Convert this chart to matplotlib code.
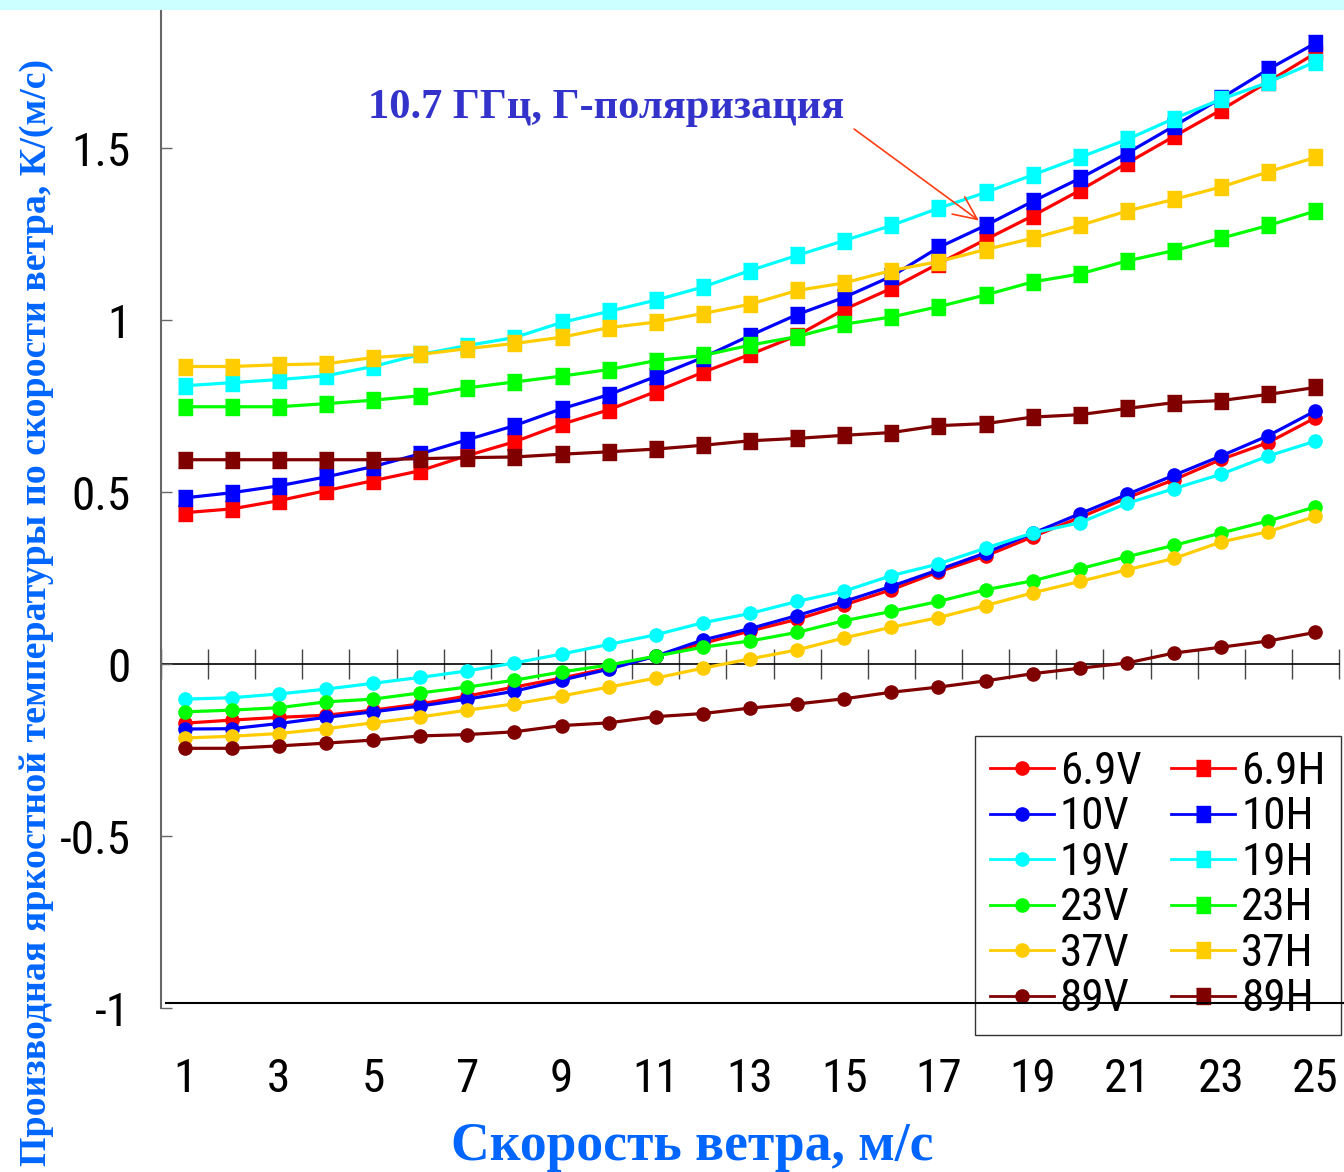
import os
import numpy as np
import matplotlib
matplotlib.use('Agg')
import matplotlib.pyplot as plt
from matplotlib import font_manager as fm
from matplotlib.textpath import TextPath

# скорость ветра, м/с
wind = np.arange(1, 26)

# производная Tя по скорости ветра, К/(м/с), вертикальная поляризация
v69 = [-0.172, -0.163, -0.155, -0.149, -0.134, -0.116, -0.093, -0.067, -0.041, -0.012, 0.023, 0.060, 0.096,
       0.130, 0.172, 0.216, 0.268, 0.314, 0.370, 0.426, 0.483, 0.536, 0.595, 0.644, 0.716]
v10 = [-0.189, -0.188, -0.173, -0.155, -0.139, -0.122, -0.102, -0.079, -0.047, -0.015, 0.023, 0.070, 0.103,
       0.141, 0.182, 0.226, 0.274, 0.323, 0.380, 0.437, 0.493, 0.549, 0.605, 0.664, 0.736]
v19 = [-0.102, -0.098, -0.087, -0.073, -0.056, -0.039, -0.020, 0.003, 0.029, 0.057, 0.085, 0.120, 0.147,
       0.182, 0.212, 0.257, 0.291, 0.337, 0.381, 0.411, 0.467, 0.510, 0.552, 0.605, 0.648]
v23 = [-0.139, -0.134, -0.127, -0.110, -0.102, -0.084, -0.067, -0.047, -0.023, -0.003, 0.023, 0.049, 0.067,
       0.092, 0.126, 0.153, 0.182, 0.216, 0.242, 0.277, 0.312, 0.345, 0.381, 0.416, 0.457]
v37 = [-0.215, -0.210, -0.202, -0.188, -0.171, -0.154, -0.134, -0.116, -0.093, -0.067, -0.041, -0.012, 0.015,
       0.041, 0.076, 0.107, 0.135, 0.170, 0.207, 0.240, 0.274, 0.307, 0.355, 0.385, 0.429]
v89 = [-0.245, -0.245, -0.238, -0.230, -0.221, -0.209, -0.205, -0.197, -0.179, -0.171, -0.153, -0.144, -0.128,
       -0.116, -0.101, -0.082, -0.067, -0.049, -0.028, -0.012, 0.003, 0.032, 0.049, 0.067, 0.092]

# горизонтальная поляризация
h69 = [0.440, 0.451, 0.475, 0.504, 0.533, 0.562, 0.606, 0.646, 0.697, 0.739, 0.792, 0.848, 0.900,
       0.955, 1.031, 1.092, 1.164, 1.234, 1.303, 1.377, 1.456, 1.534, 1.611, 1.693, 1.776]
h10 = [0.483, 0.498, 0.518, 0.544, 0.574, 0.611, 0.652, 0.693, 0.742, 0.783, 0.836, 0.891, 0.955,
       1.016, 1.066, 1.127, 1.211, 1.275, 1.345, 1.412, 1.485, 1.564, 1.645, 1.729, 1.805]
h19 = [0.809, 0.818, 0.827, 0.838, 0.865, 0.900, 0.926, 0.949, 0.993, 1.025, 1.058, 1.096, 1.144,
       1.188, 1.231, 1.275, 1.325, 1.371, 1.422, 1.473, 1.525, 1.586, 1.642, 1.691, 1.751]
h23 = [0.748, 0.748, 0.748, 0.757, 0.767, 0.780, 0.803, 0.820, 0.837, 0.856, 0.882, 0.897, 0.927,
       0.952, 0.988, 1.009, 1.039, 1.073, 1.111, 1.134, 1.172, 1.202, 1.238, 1.275, 1.317]
h37 = [0.865, 0.865, 0.870, 0.873, 0.891, 0.900, 0.917, 0.932, 0.950, 0.978, 0.994, 1.019, 1.046,
       1.086, 1.108, 1.144, 1.170, 1.205, 1.238, 1.275, 1.317, 1.351, 1.387, 1.431, 1.473]
h89 = [0.594, 0.594, 0.594, 0.594, 0.594, 0.597, 0.600, 0.602, 0.610, 0.617, 0.625, 0.636, 0.649,
       0.656, 0.665, 0.673, 0.693, 0.699, 0.718, 0.725, 0.743, 0.760, 0.766, 0.784, 0.804]

channels = ['6.9', '10', '19', '23', '37', '89']
colors = ['#ff0000', '#0000ff', '#00ffff', '#00ff00', '#ffcc00', '#800000']
series_v = [v69, v10, v19, v23, v37, v89]
series_h = [h69, h10, h19, h23, h37, h89]

yticks = [-1, -0.5, 0, 0.5, 1, 1.5]
ytick_labels = ['-1', '-0.5', '0', '0.5', '1', '1.5']

serif = ['Liberation Serif', 'DejaVu Serif']
blue_title = '#0066ff'
DPI = 100


def narrow_font():
    # первый найденный узкий шрифт, иначе обычный DejaVu Sans
    wanted = ['liberationsansnarrowregular', 'robotocondensedregular', 'opensanscondensedregular',
              'dejavusanscondensed.ttf', 'notosanscondensed.ttf', 'notosanscondensedregular',
              'archivonarrowregular', 'ptsansnarrow']
    files = [f.fname for f in fm.fontManager.ttflist]
    for w in wanted:
        for p in files:
            key = os.path.basename(p).lower().replace('_', '').replace('-', '')
            if key.startswith(w):
                return p
    return None


narrow_path = narrow_font()


def narrow_prop(size):
    if narrow_path:
        return fm.FontProperties(fname=narrow_path, size=size)
    return fm.FontProperties(family='DejaVu Sans', size=size)


# размер шрифта легенды: "6.9V" шириной около 78 px, но не крупнее 34 pt
w_px = TextPath((0, 0), '6.9V', size=34, prop=narrow_prop(34)).get_extents().width * DPI / 72
fs = min(34.0, 34.0 * 78 / w_px)
fs_px = fs * DPI / 72

W, H = 1344, 1172
fig = plt.figure(figsize=(W / DPI, H / DPI), dpi=DPI)
fig.patch.set_facecolor('white')
# светло-голубая полоса сверху
fig.patches.append(plt.Rectangle((0, 1 - 10 / H), 1, 10 / H, transform=fig.transFigure,
                                 facecolor='#ccffff', edgecolor='none'))

ax = fig.add_axes([161 / W, 1 - 1008 / H, 1178 / W, 997.5 / H])
ylo, yhi = -1.0, 1.9
ax.set_xlim(0.5, 25.5)
ax.set_ylim(ylo, yhi)

# прямоугольный маркер, вытянутый по вертикали
rect = [(-0.8, -1), (0.8, -1), (0.8, 1), (-0.8, 1)]

hv, hh = [], []
for ch, c, yv, yh in zip(channels, colors, series_v, series_h):
    lv, = ax.plot(wind, yv, color=c, lw=2.3, marker='o', ms=9.5, mec=c, label=ch + 'V')
    lh, = ax.plot(wind, yh, color=c, lw=2.3, marker=rect, ms=12, mec=c, label=ch + 'H')
    hv.append(lv)
    hh.append(lh)

for s in ['top', 'right', 'bottom']:
    ax.spines[s].set_visible(False)
ax.spines['left'].set_color('#666666')
ax.spines['left'].set_linewidth(1.5)

ax.set_yticks(yticks)
ax.set_yticklabels(ytick_labels)
ax.tick_params(axis='y', direction='in', length=8, width=1, color='#666666', pad=22)
ax.set_xticks(wind[::2])
ax.tick_params(axis='x', length=0, pad=35.5)
for lab in ax.get_xticklabels() + ax.get_yticklabels():
    lab.set_fontproperties(narrow_prop(34))

# ось абсцисс, проходящая через ноль
zero = ax.secondary_xaxis((0 - ylo) / (yhi - ylo))
zero.set_xticks(np.arange(0.5, 26, 1))
zero.set_xticklabels([])
zero.tick_params(direction='inout', length=22, width=1, color='#444444')
zero.spines['bottom'].set_color('black')
zero.spines['bottom'].set_linewidth(1.2)

ax.axhline(-0.985, xmin=0.004, xmax=1.005, color='black', lw=1.5, clip_on=False, zorder=6)

leg = ax.legend(hv + hh, [h.get_label() for h in hv + hh], ncol=2, loc='upper left',
                bbox_to_anchor=(974.7 / W, 1 - 736 / H), bbox_transform=fig.transFigure,
                borderaxespad=0, frameon=True, fancybox=False, framealpha=1, edgecolor='#333333',
                prop=narrow_prop(fs), handlelength=64 / fs_px, handletextpad=6 / fs_px,
                columnspacing=30 / fs_px, labelspacing=46.4 / fs_px - 0.95, borderpad=15 / fs_px,
                numpoints=1)
leg.get_frame().set_linewidth(1)
for ln in leg.get_lines():
    ln.set_linewidth(2)

ax.annotate('10.7 ГГц, Г-поляризация', xy=(18, h10[17]), xycoords='data',
            xytext=(606.5 / W, 1 - 118 / H), textcoords='figure fraction',
            ha='center', va='baseline', fontsize=30.6, fontweight='bold', family=serif, color='#3333cc',
            arrowprops=dict(arrowstyle='->,head_length=0.55,head_width=0.25', color='#ff3d12', lw=1.2,
                            relpos=(1, 0.13), shrinkA=6, shrinkB=6))

fig.text(692 / W, 1 - 1160.5 / H, 'Скорость ветра, м/с', ha='center', va='baseline',
         fontsize=38.6, fontweight='bold', family=serif, color=blue_title)
fig.text(46 / W, 1 - 612 / H, 'Производная яркостной температуры по скорости ветра, К/(м/с)',
         rotation=90, rotation_mode='anchor', ha='center', va='baseline',
         fontsize=27.3, fontweight='bold', family=serif, color=blue_title)

fig.savefig('out.png', dpi=DPI)
